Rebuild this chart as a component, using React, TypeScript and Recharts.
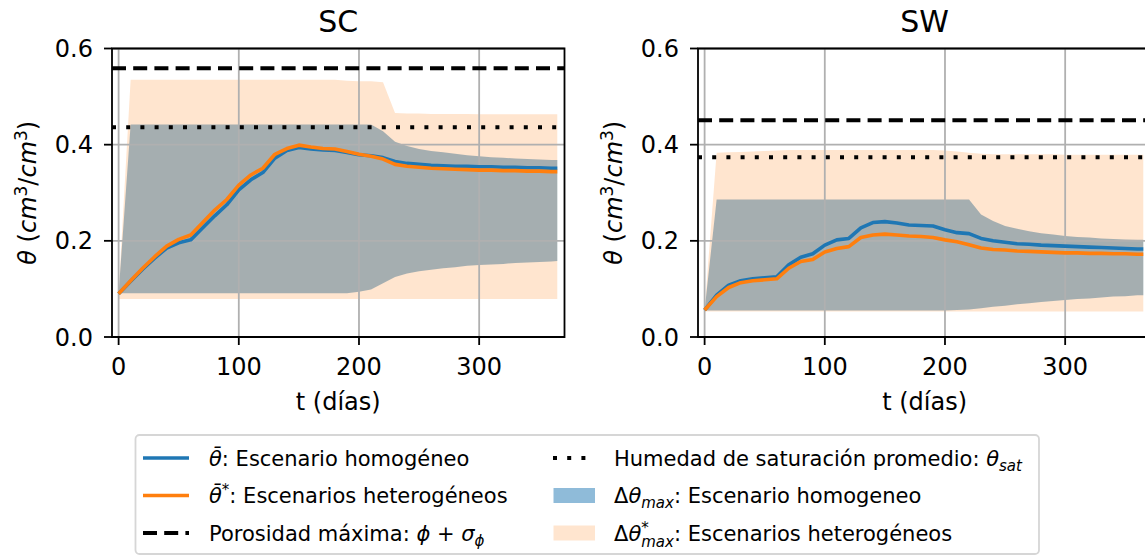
import React from 'react';
import { ComposedChart, Area, Line, XAxis, YAxis, ReferenceLine, ReferenceArea } from 'recharts';

// ---------- data ----------
const TIMES = [0, 10, 20, 30, 40, 50, 60, 70, 80, 90, 100, 110, 120, 130, 140, 150, 160, 170, 180, 190, 200, 210, 220, 230, 240, 250, 260, 270, 280, 290, 300, 310, 320, 330, 340, 350, 360, 365];
const X_TICKS = [0, 100, 200, 300];
const Y_TICKS = [0, 0.2, 0.4, 0.6];
const X_DOMAIN = [-5.5, 371];
const Y_DOMAIN = [0, 0.6];

// SC
const SC_MEAN_HOM = [0.090, 0.116, 0.141, 0.164, 0.185, 0.196, 0.202, 0.227, 0.252, 0.275, 0.306, 0.327, 0.342, 0.372, 0.388, 0.394, 0.391, 0.389, 0.388, 0.384, 0.379, 0.377, 0.373, 0.365, 0.361, 0.359, 0.357, 0.356, 0.355, 0.355, 0.354, 0.354, 0.353, 0.353, 0.352, 0.352, 0.351, 0.351];
const SC_MEAN_HET = [0.090, 0.117, 0.143, 0.167, 0.189, 0.203, 0.212, 0.238, 0.264, 0.286, 0.316, 0.337, 0.351, 0.380, 0.392, 0.399, 0.395, 0.392, 0.391, 0.386, 0.380, 0.376, 0.370, 0.359, 0.355, 0.353, 0.351, 0.350, 0.349, 0.348, 0.347, 0.347, 0.346, 0.346, 0.345, 0.345, 0.344, 0.344];
const SC_HOM_LO = [0.091, 0.091, 0.091, 0.091, 0.091, 0.091, 0.091, 0.091, 0.091, 0.091, 0.091, 0.091, 0.091, 0.091, 0.091, 0.091, 0.091, 0.091, 0.091, 0.091, 0.094, 0.099, 0.112, 0.125, 0.132, 0.137, 0.140, 0.143, 0.145, 0.148, 0.150, 0.151, 0.152, 0.154, 0.155, 0.156, 0.157, 0.158];
const SC_HOM_HI = [0.091, 0.442, 0.442, 0.442, 0.442, 0.442, 0.442, 0.442, 0.442, 0.442, 0.442, 0.442, 0.442, 0.442, 0.442, 0.442, 0.442, 0.442, 0.442, 0.442, 0.442, 0.442, 0.428, 0.406, 0.397, 0.391, 0.387, 0.384, 0.381, 0.378, 0.376, 0.374, 0.373, 0.371, 0.370, 0.369, 0.368, 0.368];
const SC_HET_LO = [0.079, 0.079, 0.079, 0.079, 0.079, 0.079, 0.079, 0.079, 0.079, 0.079, 0.079, 0.079, 0.079, 0.079, 0.079, 0.079, 0.079, 0.079, 0.079, 0.079, 0.079, 0.079, 0.079, 0.079, 0.079, 0.079, 0.079, 0.079, 0.079, 0.079, 0.079, 0.079, 0.079, 0.079, 0.079, 0.079, 0.079, 0.079];
const SC_HET_HI = [0.092, 0.535, 0.535, 0.535, 0.535, 0.535, 0.535, 0.535, 0.535, 0.535, 0.535, 0.535, 0.535, 0.535, 0.535, 0.535, 0.535, 0.535, 0.535, 0.533, 0.532, 0.532, 0.530, 0.466, 0.465, 0.465, 0.464, 0.464, 0.464, 0.464, 0.463, 0.463, 0.463, 0.463, 0.463, 0.463, 0.463, 0.463];
const SC_POROSITY = 0.559;
const SC_SATURATION = 0.436;

// SW
const SW_MEAN_HOM = [0.056, 0.087, 0.108, 0.117, 0.121, 0.123, 0.125, 0.150, 0.166, 0.173, 0.191, 0.202, 0.205, 0.227, 0.238, 0.240, 0.237, 0.233, 0.232, 0.231, 0.223, 0.217, 0.215, 0.205, 0.200, 0.197, 0.194, 0.193, 0.191, 0.190, 0.189, 0.188, 0.187, 0.186, 0.185, 0.184, 0.183, 0.183];
const SW_MEAN_HET = [0.056, 0.084, 0.103, 0.113, 0.117, 0.119, 0.121, 0.143, 0.157, 0.161, 0.177, 0.184, 0.188, 0.207, 0.212, 0.214, 0.212, 0.210, 0.209, 0.207, 0.202, 0.198, 0.192, 0.185, 0.182, 0.181, 0.179, 0.178, 0.177, 0.176, 0.175, 0.175, 0.174, 0.174, 0.173, 0.173, 0.172, 0.172];
const SW_HOM_LO = [0.055, 0.055, 0.055, 0.055, 0.055, 0.055, 0.055, 0.055, 0.055, 0.055, 0.055, 0.055, 0.055, 0.055, 0.055, 0.055, 0.055, 0.055, 0.055, 0.055, 0.055, 0.056, 0.057, 0.060, 0.063, 0.065, 0.068, 0.070, 0.073, 0.075, 0.077, 0.079, 0.080, 0.082, 0.084, 0.085, 0.087, 0.087];
const SW_HOM_HI = [0.056, 0.286, 0.286, 0.286, 0.286, 0.286, 0.286, 0.286, 0.286, 0.286, 0.286, 0.286, 0.286, 0.286, 0.286, 0.286, 0.286, 0.286, 0.286, 0.286, 0.286, 0.286, 0.286, 0.255, 0.241, 0.231, 0.225, 0.220, 0.216, 0.213, 0.210, 0.208, 0.207, 0.205, 0.204, 0.203, 0.202, 0.202];
const SW_HET_LO = [0.053, 0.053, 0.053, 0.053, 0.053, 0.053, 0.053, 0.053, 0.053, 0.053, 0.053, 0.053, 0.053, 0.053, 0.053, 0.053, 0.053, 0.053, 0.053, 0.053, 0.053, 0.053, 0.053, 0.053, 0.053, 0.053, 0.053, 0.053, 0.053, 0.053, 0.053, 0.053, 0.053, 0.053, 0.053, 0.053, 0.053, 0.053];
const SW_HET_HI = [0.056, 0.383, 0.384, 0.385, 0.386, 0.387, 0.388, 0.389, 0.389, 0.389, 0.389, 0.389, 0.389, 0.389, 0.389, 0.389, 0.389, 0.389, 0.389, 0.389, 0.388, 0.386, 0.383, 0.381, 0.380, 0.380, 0.380, 0.380, 0.380, 0.380, 0.379, 0.379, 0.379, 0.379, 0.379, 0.379, 0.379, 0.379];
const SW_POROSITY = 0.451;
const SW_SATURATION = 0.374;

// ---------- styling ----------
const FONT = '"DejaVu Sans", sans-serif';
const BLUE = '#1f77b4';
const ORANGE = '#ff7f0e';
const GRID = '#b0b0b0';
const CHART_W = 600;
const CHART_H = 430;
const MARGIN = { top: 48.5, right: 35.5, left: 0, bottom: 0 };
const Y_AXIS_W = 112;
const X_AXIS_H = 93;
const PANEL2_LEFT = 586.4;

function buildRows(meanHom, meanHet, homLo, homHi, hetLo, hetHi) {
  return TIMES.map((t, i) => ({
    t,
    meanHom: meanHom[i],
    meanHet: meanHet[i],
    hom: [homLo[i], homHi[i]],
    het: [hetLo[i], hetHi[i]],
  }));
}

const SC_ROWS = buildRows(SC_MEAN_HOM, SC_MEAN_HET, SC_HOM_LO, SC_HOM_HI, SC_HET_LO, SC_HET_HI);
const SW_ROWS = buildRows(SW_MEAN_HOM, SW_MEAN_HET, SW_HOM_LO, SW_HOM_HI, SW_HET_LO, SW_HET_HI);

const tickStyle = { fill: '#000', fontSize: 24, fontFamily: FONT };
const tickLineStyle = { stroke: '#000', strokeWidth: 1.8 };

function Panel({ rows, porosity, saturation, left }) {
  return (
    <div style={{ position: 'absolute', left, top: 0, width: CHART_W, height: CHART_H }}>
      <ComposedChart width={CHART_W} height={CHART_H} data={rows} margin={MARGIN}>
        <XAxis
          dataKey="t"
          type="number"
          domain={X_DOMAIN}
          ticks={X_TICKS}
          interval={0}
          allowDataOverflow
          height={X_AXIS_H}
          tick={tickStyle}
          tickLine={tickLineStyle}
          axisLine={false}
          tickSize={8}
          tickMargin={13}
        />
        <YAxis
          type="number"
          domain={Y_DOMAIN}
          ticks={Y_TICKS}
          interval={0}
          allowDataOverflow
          width={Y_AXIS_W}
          tick={tickStyle}
          tickLine={tickLineStyle}
          axisLine={false}
          tickSize={8}
          tickMargin={11}
          tickFormatter={(v) => Number(v).toFixed(1)}
        />
        <Area dataKey="hom" type="linear" fill={BLUE} fillOpacity={0.5} stroke="none" isAnimationActive={false} activeDot={false} />
        <Area dataKey="het" type="linear" fill={ORANGE} fillOpacity={0.2} stroke="none" isAnimationActive={false} activeDot={false} />
        {X_TICKS.map((x) => (
          <ReferenceLine key={'gx' + x} x={x} stroke={GRID} strokeWidth={1.8} zIndex={150} />
        ))}
        {Y_TICKS.map((y) => (
          <ReferenceLine key={'gy' + y} y={y} stroke={GRID} strokeWidth={1.8} zIndex={150} />
        ))}
        <Line dataKey="meanHom" type="linear" stroke={BLUE} strokeWidth={3.6} dot={false} activeDot={false} isAnimationActive={false} strokeLinejoin="round" zIndex={400} />
        <Line dataKey="meanHet" type="linear" stroke={ORANGE} strokeWidth={3.6} dot={false} activeDot={false} isAnimationActive={false} strokeLinejoin="round" zIndex={410} />
        <ReferenceLine y={porosity} stroke="#000" strokeWidth={4} strokeDasharray="14 7.2" zIndex={450} />
        <ReferenceLine y={saturation} stroke="#000" strokeWidth={4} strokeDasharray="4 10.2" zIndex={450} />
        <ReferenceArea x1={X_DOMAIN[0]} x2={X_DOMAIN[1]} y1={Y_DOMAIN[0]} y2={Y_DOMAIN[1]} fill="none" fillOpacity={0} stroke="#000" strokeWidth={1.8} zIndex={500} />
      </ComposedChart>
    </div>
  );
}

const PLOT_W = CHART_W - MARGIN.right - Y_AXIS_W;
const PLOT_CX1 = Y_AXIS_W + PLOT_W / 2;
const PLOT_CX2 = PANEL2_LEFT + PLOT_CX1;
const PLOT_CY = (MARGIN.top + (CHART_H - X_AXIS_H)) / 2;

function YLabel({ x }) {
  return (
    <text transform={`translate(${x}, ${PLOT_CY}) rotate(-90)`} textAnchor="middle" fontSize={24} fontFamily={FONT} fill="#000">
      <tspan fontStyle="italic">θ</tspan>
      <tspan> (</tspan>
      <tspan fontStyle="italic">cm</tspan>
      <tspan dy={-9} fontSize={17}>3</tspan>
      <tspan dy={9}>/</tspan>
      <tspan fontStyle="italic">cm</tspan>
      <tspan dy={-9} fontSize={17}>3</tspan>
      <tspan dy={9}>)</tspan>
    </text>
  );
}

const ROWS_Y = [458, 495.5, 533];
const LEG_FS = 21;
const SUB_FS = 15;

function Overlay() {
  const tb = (y) => y + 7.5;
  return (
    <svg width={1145} height={556} style={{ position: 'absolute', left: 0, top: 0, pointerEvents: 'none' }}>
      {/* titles */}
      <text x={PLOT_CX1} y={32} textAnchor="middle" fontSize={30} fontFamily={FONT} fill="#000">SC</text>
      <text x={PLOT_CX2} y={32} textAnchor="middle" fontSize={30} fontFamily={FONT} fill="#000">SW</text>
      {/* x labels */}
      <text x={PLOT_CX1} y={409.5} textAnchor="middle" fontSize={24} fontFamily={FONT} fill="#000">t (días)</text>
      <text x={PLOT_CX2} y={409.5} textAnchor="middle" fontSize={24} fontFamily={FONT} fill="#000">t (días)</text>
      {/* y labels */}
      <YLabel x={36} />
      <YLabel x={622} />

      {/* legend */}
      <rect x={135.5} y={435} width={903.5} height={119} rx={4} ry={4} fill="#fff" stroke="#d6d6d6" strokeWidth={1.8} />
      <g fontFamily={FONT} fontSize={LEG_FS} fill="#000">
        {/* left column */}
        <line x1={143} x2={189} y1={ROWS_Y[0]} y2={ROWS_Y[0]} stroke={BLUE} strokeWidth={3.6} />
        <text x={209} y={tb(ROWS_Y[0])}>
          <tspan fontStyle="italic">{'θ\u0304'}</tspan>
          <tspan>: Escenario homogéneo</tspan>
        </text>
        <line x1={143} x2={189} y1={ROWS_Y[1]} y2={ROWS_Y[1]} stroke={ORANGE} strokeWidth={3.6} />
        <text x={209} y={tb(ROWS_Y[1])}>
          <tspan fontStyle="italic">{'θ\u0304'}</tspan>
          <tspan dy={-8} fontSize={SUB_FS}>*</tspan>
          <tspan dy={8}>: Escenarios heterogéneos</tspan>
        </text>
        <line x1={143} x2={189} y1={ROWS_Y[2]} y2={ROWS_Y[2]} stroke="#000" strokeWidth={4} strokeDasharray="14 7.2" />
        <text x={209} y={tb(ROWS_Y[2])}>
          <tspan>Porosidad máxima: </tspan>
          <tspan fontStyle="italic">ϕ</tspan>
          <tspan> + </tspan>
          <tspan fontStyle="italic">σ</tspan>
          <tspan dy={5} fontSize={SUB_FS} fontStyle="italic">ϕ</tspan>
        </text>

        {/* right column */}
        <line x1={553} x2={595} y1={ROWS_Y[0]} y2={ROWS_Y[0]} stroke="#000" strokeWidth={4} strokeDasharray="4 10.2" />
        <text x={614} y={tb(ROWS_Y[0])}>
          <tspan>Humedad de saturación promedio: </tspan>
          <tspan fontStyle="italic">θ</tspan>
          <tspan dy={5} fontSize={SUB_FS} fontStyle="italic">sat</tspan>
        </text>
        <rect x={553.5} y={ROWS_Y[1] - 7.5} width={41.5} height={15} fill={BLUE} fillOpacity={0.5} />
        <text x={614} y={tb(ROWS_Y[1])}>
          <tspan>Δ</tspan>
          <tspan fontStyle="italic">θ</tspan>
          <tspan dy={5} fontSize={SUB_FS} fontStyle="italic">max</tspan>
          <tspan dy={-5}>: Escenario homogeneo</tspan>
        </text>
        <rect x={553.5} y={ROWS_Y[2] - 7.5} width={41.5} height={15} fill={ORANGE} fillOpacity={0.2} />
        <text x={614} y={tb(ROWS_Y[2])}>
          <tspan>Δ</tspan>
          <tspan fontStyle="italic">θ</tspan>
          <tspan dy={-8} fontSize={SUB_FS}>*</tspan>
          <tspan dx={-7.5} dy={14} fontSize={SUB_FS} fontStyle="italic">max</tspan>
          <tspan dy={-6}>: Escenarios heterogéneos</tspan>
        </text>
      </g>
    </svg>
  );
}

export default function App() {
  return (
    <div style={{ position: 'absolute', left: 0, top: 0, width: 1145, height: 556, overflow: 'hidden', background: '#fff', fontFamily: FONT }}>
      <Panel rows={SC_ROWS} porosity={SC_POROSITY} saturation={SC_SATURATION} left={0} />
      <Panel rows={SW_ROWS} porosity={SW_POROSITY} saturation={SW_SATURATION} left={PANEL2_LEFT} />
      <Overlay />
    </div>
  );
}
